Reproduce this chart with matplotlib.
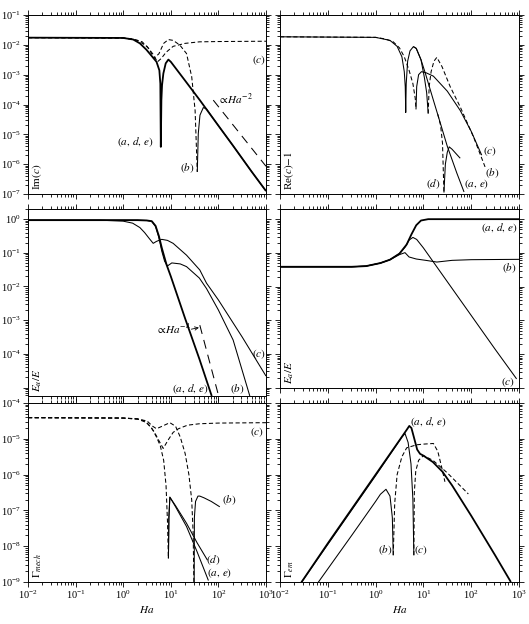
import numpy as np
import matplotlib
matplotlib.use('Agg')
import matplotlib.pyplot as plt
from matplotlib.ticker import LogLocator, NullFormatter, FuncFormatter

plt.rcParams['font.family'] = ['Liberation Serif', 'DejaVu Serif']
plt.rcParams['mathtext.fontset'] = 'stix'
plt.rcParams['font.size'] = 8.5
plt.rcParams['lines.scale_dashes'] = False

# ---------------- data ----------------
# Row 1 left : Im(c)
HA_IM_ADE = [0.01, 1, 1.62, 2.24, 3.09, 5.01, 5.75, 6.03, 6.17, 6.34, 6.55, 6.98, 7.82, 8.89, 10, 20, 40.7, 100, 200, 500, 1000]
IM_ADE = [1.74e-2, 1.70e-2, 1.51e-2, 1.12e-2, 6.8e-3, 2.7e-3, 1.4e-3, 5.0e-4, 3.8e-6, 1.4e-4, 4.5e-4, 1.1e-3, 2.4e-3, 3.2e-3, 2.7e-3, 6.3e-4, 1.4e-4, 1.95e-5, 4.3e-6, 5.6e-7, 1.26e-7]
HA_IM_B_NEG = [0.01, 1, 1.58, 2.51, 3.55, 4.37, 5.62, 7.08, 8.89, 11.2, 15.5, 21.4, 27.5, 32.4, 36.0]
IM_B_NEG = [1.74e-2, 1.70e-2, 1.58e-2, 1.26e-2, 7.1e-3, 3.5e-3, 5.0e-3, 1.12e-2, 1.5e-2, 1.41e-2, 9.8e-3, 5.1e-3, 8.5e-4, 6.3e-5, 5.5e-7]
HA_IM_B_POS = [36.0, 37.8, 41.0, 48.2, 56.2, 70.8, 100, 200, 500, 1000]
IM_B_POS = [5.5e-7, 1.07e-5, 4.4e-5, 7.9e-5, 7.1e-5, 4.2e-5, 1.95e-5, 4.3e-6, 5.6e-7, 1.26e-7]
HA_IM_C = [0.01, 1, 2, 3.16, 4.17, 5.25, 6.31, 7.94, 11.2, 20, 39.8, 100, 1000]
IM_C = [1.74e-2, 1.70e-2, 1.41e-2, 8.9e-3, 5.0e-3, 2.7e-3, 3.5e-3, 5.6e-3, 8.9e-3, 1.12e-2, 1.26e-2, 1.29e-2, 1.32e-2]
HA_IM_REF = [78, 1000]
IM_REF = [1.4e-4, 8.5e-7]

# Row 1 right : Re(c)-1
HA_RE_ADE = [0.01, 1, 2.0, 2.82, 3.55, 3.98, 4.17, 4.27, 4.37, 4.68, 5.25, 6.17, 7.08, 8.91, 10, 11.2, 15.8, 22.4, 31.6, 50.1, 70.8]
RE_ADE = [0.0186, 0.0178, 0.0141, 8.9e-3, 3.98e-3, 1.26e-3, 3.98e-4, 5.4e-5, 5.0e-4, 2.82e-3, 6.3e-3, 8.7e-3, 7.6e-3, 3.16e-3, 1.78e-3, 1.0e-3, 1.58e-4, 2.5e-5, 3.98e-6, 5.0e-7, 1.17e-7]
HA_RE_B_POS = [6.17, 7.08, 8.91, 10.5, 11.7, 12.6]
RE_B_POS = [8.7e-3, 7.6e-3, 3.16e-3, 7.9e-4, 2.5e-4, 5.0e-5]
HA_RE_B_NEG = [12.6, 13.2, 14.5, 16.6, 19.1, 24.5, 36.3, 58.9, 112, 195]
RE_B_NEG = [5.0e-5, 3.98e-4, 1.26e-3, 2.82e-3, 3.8e-3, 1.86e-3, 3.98e-4, 8.3e-5, 8.1e-6, 8.1e-7]
HA_RE_C_NEG = [0.01, 1, 1.58, 2.34, 3.16, 3.98, 5.01, 6.03, 6.76, 7.0]
RE_C_NEG = [0.0186, 0.0178, 0.0158, 0.0126, 7.9e-3, 3.98e-3, 1.41e-3, 5.0e-4, 1.58e-4, 6.9e-5]
HA_RE_C_POS = [7.0, 7.24, 7.94, 9.12, 11.2, 16.2, 31.6, 58.9, 100, 166]
RE_C_POS = [6.9e-5, 3.98e-4, 1e-3, 1.26e-3, 1.17e-3, 8.9e-4, 2.8e-4, 6.3e-5, 1.26e-5, 2.0e-6]
HA_RE_D_NEG = [20, 22.9, 25.1, 26.9]
RE_D_NEG = [4.7e-5, 2.0e-5, 5.0e-6, 1.12e-7]
HA_RE_D_POS = [26.9, 28.8, 31.6, 34.7, 39.8, 50.1, 58.9]
RE_D_POS = [1.12e-7, 1e-6, 2.5e-6, 3.8e-6, 3.16e-6, 2.1e-6, 1.58e-6]

# Row 2 left : E_u/E
HA_EL_ADE = [0.01, 1, 2.0, 3.16, 3.98, 4.79, 5.62, 6.46, 7.41, 8.13, 10, 20, 39.8, 72.4]
EL_ADE = [0.933, 0.933, 0.933, 0.912, 0.871, 0.631, 0.316, 0.141, 0.0708, 0.0447, 0.02, 1.12e-3, 7.08e-5, 5.6e-6]
HA_EL_B = [0.01, 1, 2.0, 3.16, 3.98, 4.79, 5.62, 6.46, 7.41, 8.51, 10.5, 15.8, 21.4, 39.8, 56.2, 100, 204, 457]
EL_B = [0.933, 0.933, 0.933, 0.912, 0.851, 0.603, 0.282, 0.112, 0.0562, 0.0407, 0.0501, 0.0468, 0.0389, 0.0178, 8.7e-3, 2.0e-3, 2.57e-4, 5.6e-6]
HA_EL_C = [0.01, 0.316, 1, 1.58, 2.24, 2.82, 3.55, 4.27, 5.01, 6.46, 8.51, 11.2, 21.4, 40.7, 56.2, 100, 316, 1000]
EL_C = [0.933, 0.933, 0.871, 0.759, 0.562, 0.398, 0.263, 0.191, 0.219, 0.251, 0.234, 0.191, 0.0851, 0.0309, 0.0126, 3.98e-3, 3.16e-4, 2.19e-5]
HA_EL_REF = [40.7, 100]
EL_REF = [7.1e-4, 6.0e-6]

# Row 2 right : E_a/E
HA_ER_ADE = [0.01, 0.316, 0.631, 1.26, 2.0, 3.16, 4.47, 5.62, 7.08, 8.91, 12.6, 1000]
ER_ADE = [0.0389, 0.0389, 0.0407, 0.0501, 0.0631, 0.0955, 0.178, 0.355, 0.661, 0.912, 1.0, 1.0]
HA_ER_C = [0.01, 0.316, 0.631, 1.26, 2.0, 3.16, 4.17, 5.01, 6.03, 7.24, 10, 31.6, 100, 316, 891]
ER_C = [0.0389, 0.0389, 0.0407, 0.0501, 0.0631, 0.0955, 0.151, 0.24, 0.288, 0.251, 0.141, 0.0141, 1.41e-3, 1.41e-4, 1.86e-5]
HA_ER_B = [0.01, 0.316, 0.631, 1.26, 2.0, 3.16, 4.12, 5.01, 7.08, 11.2, 19.1, 39.8, 100, 1000]
ER_B = [0.0389, 0.0389, 0.0407, 0.0501, 0.0631, 0.0891, 0.102, 0.0759, 0.0661, 0.0603, 0.0537, 0.0603, 0.0631, 0.0646]

# Row 3 left : Gamma_mech
HA_GM_C = [0.01, 1, 2.0, 3.16, 4.47, 5.62, 6.92, 8.91, 11.2, 14.5, 22.4, 39.8, 100, 1000]
GM_C = [3.89e-5, 3.8e-5, 3.55e-5, 2.82e-5, 1.58e-5, 8.9e-6, 5.4e-6, 9.5e-6, 1.51e-5, 1.91e-5, 2.4e-5, 2.63e-5, 2.75e-5, 2.82e-5]
HA_GM_ADE_NEG = [0.01, 1, 2.0, 2.82, 3.98, 5.01, 6.03, 7.08, 7.94, 8.51, 8.91]
GM_ADE_NEG = [3.89e-5, 3.8e-5, 3.63e-5, 3.16e-5, 2.0e-5, 1.12e-5, 6.3e-6, 2.51e-6, 5.0e-7, 5.0e-8, 4.57e-9]
HA_GM_AE = [8.91, 9.12, 9.55, 12.6, 21.4, 35.5, 61.7]
GM_AE = [4.57e-9, 6.3e-8, 2.34e-7, 1.26e-7, 3.55e-8, 7.1e-9, 1.1e-9]
HA_GM_D = [8.91, 9.12, 9.55, 12.6, 21.4, 35.5, 58.9]
GM_D = [4.57e-9, 6.3e-8, 2.34e-7, 1.35e-7, 4.37e-8, 1.26e-8, 4.07e-9]
HA_GM_B_NEG = [0.01, 1, 2.0, 3.16, 4.17, 5.01, 6.31, 9.55, 12.6, 15.8, 20, 24, 27.5, 29.5, 30.9]
GM_B_NEG = [3.89e-5, 3.8e-5, 3.55e-5, 3.16e-5, 2.24e-5, 1.91e-5, 2.19e-5, 2.82e-5, 2.24e-5, 1.12e-5, 3.89e-6, 1.0e-6, 1.95e-7, 2.29e-8, 3.2e-10]
HA_GM_B_POS = [30.9, 31.3, 33.1, 37.2, 40.7, 50.1, 70.8, 107]
GM_B_POS = [3.2e-10, 6.3e-8, 1.78e-7, 2.51e-7, 2.51e-7, 2.24e-7, 1.78e-7, 1.26e-7]

# Row 3 right : Gamma_em
HA_GE_ADE = [0.0251, 0.1, 1, 3.16, 4.47, 5.07, 5.62, 6.31, 7.41, 8.51, 10, 15.8, 25.1, 39.8, 100, 316, 676]
GE_ADE = [7.9e-10, 1.2e-8, 1.0e-6, 9.1e-6, 1.78e-5, 2.29e-5, 2.0e-5, 1.12e-5, 5.0e-6, 3.8e-6, 3.39e-6, 2.24e-6, 1.2e-6, 5.0e-7, 7.1e-8, 5.6e-9, 1.0e-9]
HA_GE_C_POS = [0.0251, 0.1, 1, 2.82, 3.55, 4.12, 4.79, 5.5, 6.03, 6.31]
GE_C_POS = [7.9e-10, 1.12e-8, 9.3e-7, 7.1e-6, 1.12e-5, 1.41e-5, 7.9e-6, 2.0e-6, 2.0e-7, 5.6e-9]
HA_GE_C_NEG = [6.31, 6.46, 6.92, 7.94, 10, 15.8, 31.6, 87.1]
GE_C_NEG = [5.6e-9, 3.16e-7, 1.26e-6, 2.51e-6, 3.39e-6, 2.51e-6, 1.12e-6, 2.88e-7]
HA_GE_B_POS = [0.0562, 0.316, 1, 1.26, 1.65, 2.0, 2.24, 2.34]
GE_B_POS = [7.9e-10, 2.0e-8, 1.78e-7, 2.82e-7, 3.89e-7, 2.51e-7, 6.3e-8, 5.6e-9]
HA_GE_B_NEG = [2.34, 2.51, 2.82, 3.55, 4.47, 7.24, 10, 16.2, 20, 24, 28.2]
GE_B_NEG = [5.6e-9, 1.58e-7, 1.0e-6, 3.16e-6, 5.6e-6, 6.8e-6, 7.1e-6, 7.4e-6, 4.47e-6, 1.66e-6, 6.3e-7]

X_LIM = (1e-2, 1e3)
YLIM_1 = (1e-7, 1e-1)
YLIM_2L = (5.6e-6, 2.0)
YLIM_2R = (1e-5, 2.0)
YLIM_3 = (1e-9, 1e-4)

# ---------------- figure ----------------
W, H = 529, 624
fig = plt.figure(figsize=(W / 100, H / 100), dpi=100)


def ax_at(l, t, r, b):
    return fig.add_axes([l / W, 1 - b / H, (r - l) / W, (b - t) / H])


LX = (28, 266)
RX = (280, 519)
ax1l = ax_at(LX[0], 15, LX[1], 194)
ax1r = ax_at(RX[0], 15, RX[1], 194)
ax2l = ax_at(LX[0], 209, LX[1], 396)
ax2r = ax_at(RX[0], 209, RX[1], 388)
ax3l = ax_at(LX[0], 403, LX[1], 582)
ax3r = ax_at(RX[0], 403, RX[1], 582)

TICK_FS = 7.5


def make_fmt(vmin):
    def f(v, pos):
        if v < vmin * 0.999:
            return ''
        return r'$\mathdefault{10^{%d}}$' % int(round(np.log10(v)))
    return FuncFormatter(f)


def style(ax, ylim, xlab, ylab, ylab_min=0.0):
    ax.set_xscale('log')
    ax.set_yscale('log')
    ax.set_xlim(*X_LIM)
    ax.set_ylim(*ylim)
    for a in (ax.xaxis, ax.yaxis):
        a.set_major_locator(LogLocator(base=10, numticks=30))
        a.set_minor_locator(LogLocator(base=10, subs=np.arange(2, 10), numticks=30))
        a.set_minor_formatter(NullFormatter())
    ax.xaxis.set_major_formatter(make_fmt(0.0))
    ax.yaxis.set_major_formatter(make_fmt(ylab_min))
    ax.tick_params(which='both', direction='out', top=True, right=True,
                   labelsize=TICK_FS, width=0.6, pad=1.5)
    ax.tick_params(which='major', length=3.5)
    ax.tick_params(which='minor', length=2)
    ax.tick_params(labelbottom=xlab, labelleft=ylab)
    for s in ax.spines.values():
        s.set_linewidth(0.7)


style(ax1l, YLIM_1, False, True)
style(ax1r, YLIM_1, False, False)
style(ax2l, YLIM_2L, False, True, ylab_min=1e-4)
style(ax2r, YLIM_2R, False, False)
style(ax3l, YLIM_3, True, True)
style(ax3r, YLIM_3, True, False)

TH = 1.3
TN = 0.75
DSH = (3.0, 1.8)


def solid(ax, x, y, lw=TN):
    ax.plot(x, y, color='black', lw=lw, solid_capstyle='butt')


def dashed(ax, x, y, lw=TN, dashes=DSH):
    ax.plot(x, y, color='black', lw=lw, dashes=dashes)


# Row 1 left
dashed(ax1l, HA_IM_C, IM_C)
dashed(ax1l, HA_IM_B_NEG, IM_B_NEG)
solid(ax1l, HA_IM_B_POS, IM_B_POS)
solid(ax1l, HA_IM_ADE, IM_ADE, TH)
dashed(ax1l, HA_IM_REF, IM_REF, dashes=(6.5, 4.5))

# Row 1 right
dashed(ax1r, HA_RE_C_NEG, RE_C_NEG)
solid(ax1r, HA_RE_C_POS, RE_C_POS)
solid(ax1r, HA_RE_ADE, RE_ADE)
solid(ax1r, HA_RE_B_POS, RE_B_POS)
dashed(ax1r, HA_RE_B_NEG, RE_B_NEG)
dashed(ax1r, HA_RE_D_NEG, RE_D_NEG)
solid(ax1r, HA_RE_D_POS, RE_D_POS)

# Row 2 left
solid(ax2l, HA_EL_C, EL_C)
solid(ax2l, HA_EL_B, EL_B)
solid(ax2l, HA_EL_ADE, EL_ADE, TH)
dashed(ax2l, HA_EL_REF, EL_REF, dashes=(6.5, 4.5))

# Row 2 right
solid(ax2r, HA_ER_B, ER_B)
solid(ax2r, HA_ER_C, ER_C)
solid(ax2r, HA_ER_ADE, ER_ADE, TH)

# Row 3 left
dashed(ax3l, HA_GM_C, GM_C)
dashed(ax3l, HA_GM_B_NEG, GM_B_NEG)
solid(ax3l, HA_GM_B_POS, GM_B_POS)
dashed(ax3l, HA_GM_ADE_NEG, GM_ADE_NEG)
solid(ax3l, HA_GM_AE, GM_AE)
solid(ax3l, HA_GM_D, GM_D)

# Row 3 right
solid(ax3r, HA_GE_ADE, GE_ADE, TH)
solid(ax3r, HA_GE_C_POS, GE_C_POS)
dashed(ax3r, HA_GE_C_NEG, GE_C_NEG)
solid(ax3r, HA_GE_B_POS, GE_B_POS)
dashed(ax3r, HA_GE_B_NEG, GE_B_NEG)

FS = 8


def lab(ax, x, y, s, ha='center'):
    ax.text(x, y, s, ha=ha, va='center', fontsize=FS)


# curve labels
lab(ax1l, 4.3, 5.5e-6, r'$(a,\,d,\,e)$', 'right')
lab(ax1l, 31, 7.2e-7, r'$(b)$', 'right')
lab(ax1l, 700, 3.1e-3, r'$(c)$')
lab(ax1l, 100, 1.5e-4, r'$\propto\!Ha^{-2}$', 'left')

lab(ax1r, 245, 2.8e-6, r'$(c)$')
lab(ax1r, 275, 5.2e-7, r'$(b)$')
lab(ax1r, 16.2, 2.1e-7, r'$(d)$')
lab(ax1r, 129, 2.1e-7, r'$(a,\,e)$')

lab(ax2l, 25, 9.0e-6, r'$(a,\,d,\,e)$')
lab(ax2l, 251, 9.0e-6, r'$(b)$')
lab(ax2l, 700, 1.0e-4, r'$(c)$')
lab(ax2l, 26, 5.4e-4, r'$\propto\!Ha^{-4}$', 'right')
ax2l.annotate('', xy=(39, 6.0e-4), xytext=(27, 5.4e-4),
              arrowprops=dict(arrowstyle='->', lw=0.6, color='black',
                              shrinkA=0, shrinkB=0, mutation_scale=6))

lab(ax2r, 389, 0.56, r'$(a,\,d,\,e)$')
lab(ax2r, 631, 0.035, r'$(b)$')
lab(ax2r, 575, 1.5e-5, r'$(c)$')

lab(ax3l, 631, 1.5e-5, r'$(c)$')
lab(ax3l, 170, 1.95e-7, r'$(b)$')
lab(ax3l, 78, 4.0e-9, r'$(d)$')
lab(ax3l, 107, 1.74e-9, r'$(a,\,e)$')

lab(ax3r, 12.6, 3.0e-5, r'$(a,\,d,\,e)$')
lab(ax3r, 1.57, 7.9e-9, r'$(b)$')
lab(ax3r, 9.1, 7.9e-9, r'$(c)$')


# y labels inside panels
def ylab(ax, s, x=0.04):
    ax.text(x, 0.02, s, rotation=90, ha='center', va='bottom',
            transform=ax.transAxes, fontsize=FS)


ylab(ax1l, r'Im$(c)$')
ylab(ax1r, r'Re$(c)\!-\!1$')
ylab(ax2l, r'$E_u/E$')
ylab(ax2r, r'$E_a/E$')
ylab(ax3l, r'$\Gamma_{mech}$')
ylab(ax3r, r'$\Gamma_{em}$')

ax3l.set_xlabel(r'$Ha$', fontsize=FS, labelpad=2)
ax3r.set_xlabel(r'$Ha$', fontsize=FS, labelpad=2)

fig.savefig('out.png', dpi=100)
